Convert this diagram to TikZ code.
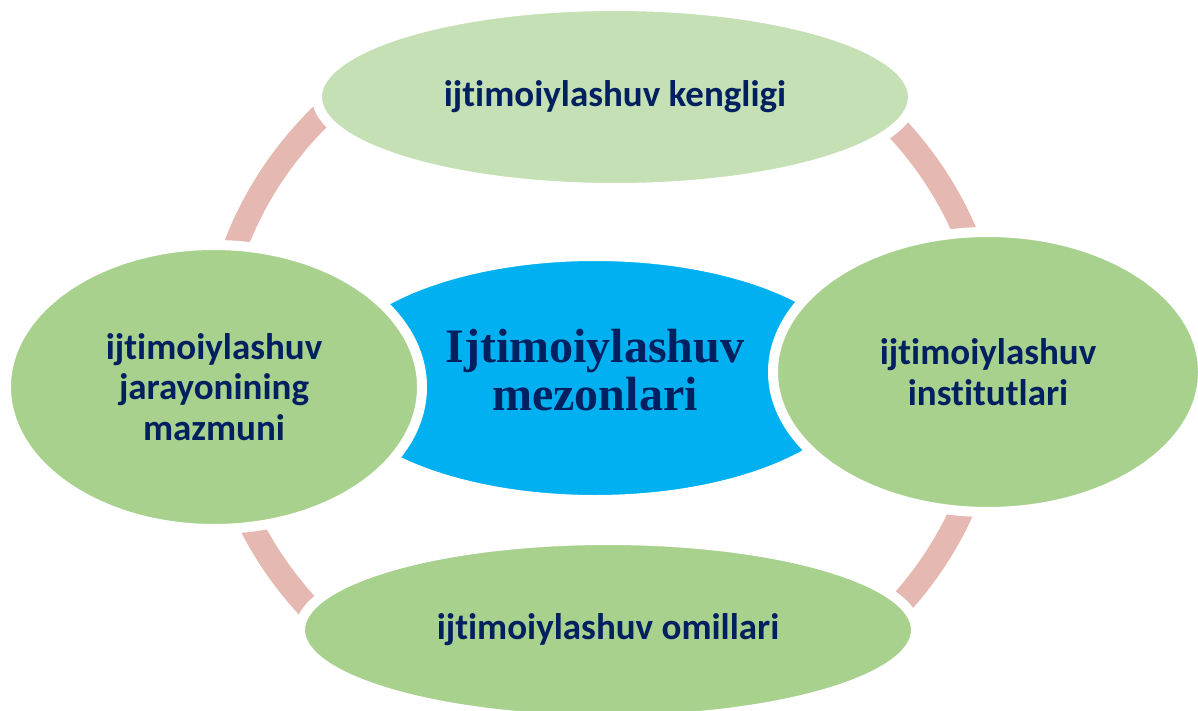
\documentclass[tikz,border=0pt]{standalone}
\usepackage{fontspec}
\setmainfont{Carlito}[Ligatures=NoCommon]
\newfontfamily\serifbold{Liberation Serif}
\usetikzlibrary{shapes.geometric,calc}
\definecolor{ringpink}{RGB}{229,184,178}
\definecolor{lightgreen}{RGB}{197,224,180}
\definecolor{midgreen}{RGB}{169,209,142}
\definecolor{cyanblue}{RGB}{0,176,240}
\definecolor{navy}{RGB}{0,32,96}
\tikzset{
  bubble/.style={ellipse, draw=white, line width=10pt, inner sep=0pt,
    align=center, text=navy,
    font=\fontsize{37}{40.5}\selectfont\bfseries},
  ringline/.style={draw=ringpink, line width=24pt},
  centertext/.style={inner sep=0pt, align=center, text=navy,
    font=\serifbold\fontsize{48}{48}\selectfont\bfseries}
}
\begin{document}
\begin{tikzpicture}[x=1pt,y=-1pt]
\useasboundingbox (0,0) rectangle (1198,711);
\coordinate (ringc) at (603,368);
\foreach \s/\e in {195/240, 300/345, 15/60, 120/165}{
  \draw[ringline] ($(ringc)+({390*cos(\s)},{365*sin(\s)})$)
    arc [start angle=\s, end angle=\e, x radius=390, y radius=365];
}
\node[bubble, fill=lightgreen, minimum width=596pt, minimum height=182pt] (top) at (615,97) {ijtimoiylashuv kengligi};
\node[bubble, fill=midgreen, minimum width=616pt, minimum height=180pt] (bottom) at (608,630) {ijtimoiylashuv omillari};
\node[ellipse, draw=white, line width=10pt, fill=cyanblue, minimum width=540pt, minimum height=244pt] (center) at (595,378) {};
\node[bubble, fill=midgreen, minimum width=416pt, minimum height=284pt] (left) at (214,387) {ijtimoiylashuv\\jarayonining\\mazmuni};
\node[bubble, fill=midgreen, minimum width=430pt, minimum height=280pt] (right) at (988,372) {ijtimoiylashuv\\institutlari};
\node[centertext] (ctext) at (595,370) {Ijtimoiylashuv\\mezonlari};
\end{tikzpicture}
\end{document}
